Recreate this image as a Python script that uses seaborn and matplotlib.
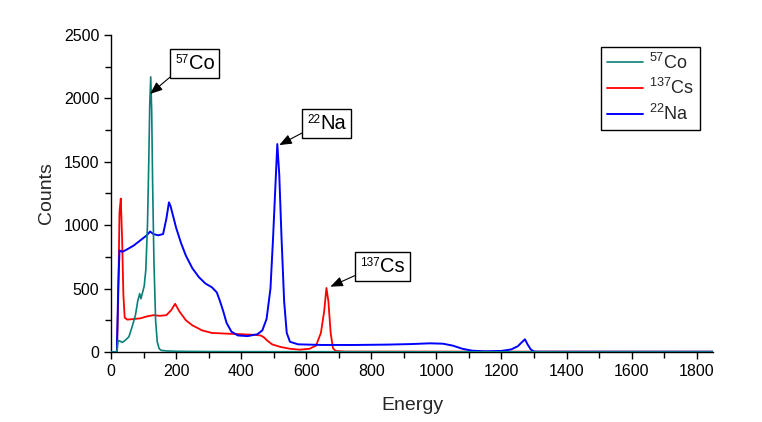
import matplotlib
matplotlib.use("Agg")
import matplotlib.pyplot as plt
import pandas as pd
import seaborn as sns
from matplotlib.offsetbox import AnnotationBbox, HPacker, TextArea
from matplotlib.ticker import MultipleLocator

# values (energy, counts)
co_energy = [0, 18, 22, 28, 35, 45, 55, 65, 75, 82, 88, 92, 97, 102, 107, 112,
             116, 119, 122, 125, 128, 132, 137, 142, 148, 155, 170, 200, 300,
             500, 1850]
co_counts = [0, 0, 90, 85, 75, 95, 120, 200, 290, 400, 460, 420, 470, 520, 650,
             1000, 1500, 1950, 2170, 1900, 1300, 700, 250, 80, 25, 12, 8, 5, 3,
             2, 0]

cs_energy = [0, 18, 22, 26, 30, 34, 38, 42, 50, 70, 90, 110, 130, 150, 170, 185,
             197, 210, 230, 250, 280, 310, 350, 400, 440, 460, 470, 480, 495,
             520, 550, 580, 610, 630, 645, 655, 662, 668, 675, 682, 690, 720,
             1850]
cs_counts = [0, 0, 400, 1100, 1210, 900, 450, 270, 255, 260, 265, 280, 290, 285,
             290, 330, 380, 320, 250, 210, 170, 150, 145, 140, 135, 130, 115,
             90, 60, 40, 25, 18, 25, 50, 150, 320, 505, 400, 150, 30, 8, 3, 2]

na_energy = [0, 18, 22, 26, 35, 50, 70, 90, 110, 120, 130, 145, 160, 170, 178,
             183, 190, 200, 215, 230, 250, 270, 290, 310, 325, 335, 345, 355,
             370, 390, 420, 450, 465, 478, 490, 498, 505, 511, 517, 524, 532,
             540, 550, 575, 650, 750, 850, 920, 980, 1020, 1050, 1080, 1110,
             1150, 1200, 1230, 1250, 1262, 1272, 1280, 1290, 1300, 1320, 1850]
na_counts = [0, 0, 500, 800, 790, 810, 840, 880, 920, 950, 930, 920, 930, 1050,
             1180, 1150, 1080, 980, 860, 760, 660, 590, 540, 510, 470, 400, 320,
             230, 160, 130, 125, 140, 170, 260, 500, 900, 1300, 1640, 1400, 900,
             400, 150, 80, 60, 55, 55, 58, 62, 68, 65, 50, 25, 10, 5, 8, 20, 45,
             75, 100, 60, 20, 3, 2, 2]

mass_numbers = ['57', '137', '22']
elements = ['Co', 'Cs', 'Na']
colors = ['#0a7f78', '#ff0000', '#0000ff']
labels = [f'$^{{{m}}}$' + e for m, e in zip(mass_numbers, elements)]

# label tip (energy, counts) and label box centre
peak_tips = [(120, 2035), (674, 515), (517, 1632)]
label_centres = [(258, 2279), (834, 674), (663, 1802)]


def run():
    df = pd.concat([
        pd.DataFrame({'energy': co_energy, 'counts': co_counts, 'source': labels[0]}),
        pd.DataFrame({'energy': cs_energy, 'counts': cs_counts, 'source': labels[1]}),
        pd.DataFrame({'energy': na_energy, 'counts': na_counts, 'source': labels[2]}),
    ])
    plot_spectra(df)


def isotope_label(mass, element):
    sup = TextArea(mass, textprops=dict(size=8.5, color='black'))
    main = TextArea(element, textprops=dict(size=14.5, color='black'))
    return HPacker(children=[sup, main], align='top', pad=0, sep=0)


def plot_spectra(df):
    sns.set_style('ticks')
    plt.rcParams['font.family'] = ['Liberation Sans', 'DejaVu Sans']
    plt.rcParams['mathtext.default'] = 'regular'

    fig = plt.figure(figsize=(7.62, 4.22), dpi=100)
    ax = fig.add_axes([0.1457, 0.166, 0.79, 0.751])

    zorders = {labels[0]: 4, labels[1]: 2, labels[2]: 3}
    widths = {labels[0]: 1.2, labels[1]: 1.3, labels[2]: 1.4}
    for label, color in zip(labels, colors):
        sub = df[df.source == label]
        sns.lineplot(ax=ax, data=sub, x='energy', y='counts', color=color,
                     label=label, linewidth=widths[label], estimator=None,
                     zorder=zorders[label])

    ax.set_xlim(0, 1850)
    ax.set_ylim(0, 2500)
    ax.xaxis.set_major_locator(MultipleLocator(200))
    ax.xaxis.set_minor_locator(MultipleLocator(100))
    ax.yaxis.set_major_locator(MultipleLocator(500))
    ax.yaxis.set_minor_locator(MultipleLocator(250))
    ax.tick_params(which='major', direction='out', length=5, width=1,
                   labelsize=11.5, color='black', labelcolor='black')
    ax.tick_params(which='minor', direction='out', length=4, width=1,
                   color='black')
    sns.despine(ax=ax)
    for side in ['left', 'bottom']:
        ax.spines[side].set_color('black')
        ax.spines[side].set_linewidth(1)

    ax.set_xlabel('Energy', fontsize=14, labelpad=13)
    ax.set_ylabel('Counts', fontsize=14, labelpad=6)

    rels = [(0.0, 0.0), (0.0, 0.15), (0.0, 0.15)]
    for mass, element, tip, centre, rel in zip(mass_numbers, elements,
                                               peak_tips, label_centres, rels):
        ab = AnnotationBbox(
            isotope_label(mass, element), tip, xybox=centre,
            xycoords='data', boxcoords='data', pad=0.33, fontsize=12,
            bboxprops=dict(boxstyle='square', facecolor='white',
                           edgecolor='black', linewidth=1),
            arrowprops=dict(arrowstyle='-|>,head_length=0.45,head_width=0.18',
                            color='black', linewidth=0.8, relpos=rel,
                            shrinkA=0, shrinkB=0))
        ab.set_zorder(6)
        ax.add_artist(ab)

    leg = ax.legend(loc='upper right', bbox_to_anchor=(0.978, 0.962),
                    borderaxespad=0, fontsize=13, fancybox=False,
                    frameon=True, handlelength=2.0, handletextpad=0.35,
                    labelspacing=0.32, borderpad=0.3)
    leg.get_frame().set_edgecolor('black')
    leg.get_frame().set_linewidth(1)
    leg.get_frame().set_alpha(1)

    fig.savefig('out.png', dpi=100)


if __name__ == "__main__":
    run()
